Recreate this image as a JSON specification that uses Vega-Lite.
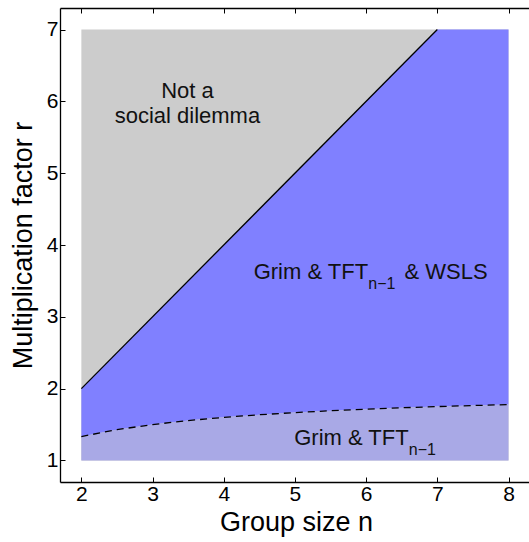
{
  "$schema": "https://vega.github.io/schema/vega-lite/v6.json",
  "width": 472,
  "height": 474,
  "autosize": {"type": "none"},
  "padding": {"left": 60, "top": 8, "right": 0, "bottom": 60},
  "background": "white",
  "config": {
    "view": {"stroke": null},
    "font": "Liberation Sans",
    "axis": {
      "grid": false,
      "domainColor": "black",
      "domainWidth": 1.3,
      "tickColor": "black",
      "tickWidth": 1,
      "tickSize": -5,
      "labelColor": "black",
      "titleColor": "black",
      "labelFont": "Liberation Sans",
      "titleFont": "Liberation Sans",
      "labelFontSize": 21,
      "titleFontSize": 27,
      "titleFontWeight": "normal"
    }
  },
  "datasets": {
    "curve": [
      {"n": 2, "low": 1.3333, "up": 2},
      {"n": 2.5, "low": 1.4286, "up": 2.5},
      {"n": 3, "low": 1.5, "up": 3},
      {"n": 3.5, "low": 1.5556, "up": 3.5},
      {"n": 4, "low": 1.6, "up": 4},
      {"n": 4.5, "low": 1.6364, "up": 4.5},
      {"n": 5, "low": 1.6667, "up": 5},
      {"n": 5.5, "low": 1.6923, "up": 5.5},
      {"n": 6, "low": 1.7143, "up": 6},
      {"n": 6.5, "low": 1.7333, "up": 6.5},
      {"n": 7, "low": 1.75, "up": 7},
      {"n": 7.5, "low": 1.7647, "up": 7},
      {"n": 8, "low": 1.7778, "up": 7}
    ],
    "diag": [
      {"n": 2, "r": 2},
      {"n": 7, "r": 7}
    ],
    "box": [
      {"n": 2, "bottom": 1, "top": 7},
      {"n": 8, "bottom": 1, "top": 7}
    ],
    "labelsCenter": [
      {"n": 3.49, "r": 6.15, "text": "Not a", "size": 22},
      {"n": 3.49, "r": 5.8, "text": "social dilemma", "size": 22}
    ],
    "labelsLeft": [
      {"n": 4.42, "r": 3.62, "text": "Grim & TFT", "size": 22},
      {"n": 6.03, "r": 3.46, "text": "n−1", "size": 16},
      {"n": 6.54, "r": 3.62, "text": "& WSLS", "size": 22},
      {"n": 4.99, "r": 1.31, "text": "Grim & TFT", "size": 22},
      {"n": 6.6, "r": 1.15, "text": "n−1", "size": 16}
    ]
  },
  "resolve": {"axis": {"x": "independent", "y": "independent"}},
  "layer": [
    {
      "data": {"name": "box"},
      "mark": {"type": "area", "color": "#cccccc", "opacity": 1},
      "encoding": {
        "x": {"field": "n", "type": "quantitative", "scale": {"domain": [1.7, 8.33], "nice": false, "zero": false},
          "axis": {"orient": "bottom", "values": [2, 3, 4, 5, 6, 7, 8], "title": "Group size n", "labelPadding": 6, "titlePadding": 5, "format": "d"}},
        "y": {"field": "top", "type": "quantitative", "scale": {"domain": [0.7, 7.3], "nice": false, "zero": false},
          "axis": {"orient": "left", "values": [1, 2, 3, 4, 5, 6, 7], "title": "Multiplication factor r", "labelPadding": 7, "titlePadding": 9, "format": "d"}},
        "y2": {"field": "bottom"}
      }
    },
    {
      "data": {"name": "curve"},
      "mark": {"type": "area", "color": "#8080ff", "opacity": 1},
      "encoding": {
        "x": {"field": "n", "type": "quantitative",
          "axis": {"orient": "top", "values": [2, 3, 4, 5, 6, 7, 8], "labels": false, "title": null}},
        "y": {"field": "up", "type": "quantitative", "axis": null},
        "y2": {"field": "low"}
      }
    },
    {
      "data": {"name": "curve"},
      "mark": {"type": "area", "color": "#a9a9e6", "opacity": 1},
      "encoding": {
        "x": {"field": "n", "type": "quantitative", "axis": null},
        "y": {"field": "low", "type": "quantitative", "axis": null},
        "y2": {"datum": 1}
      }
    },
    {
      "data": {"name": "curve"},
      "mark": {"type": "line", "color": "black", "strokeWidth": 1.3, "strokeDash": [7, 5]},
      "encoding": {
        "x": {"field": "n", "type": "quantitative", "axis": null},
        "y": {"field": "low", "type": "quantitative", "axis": null}
      }
    },
    {
      "data": {"name": "diag"},
      "mark": {"type": "line", "color": "black", "strokeWidth": 1.3},
      "encoding": {
        "x": {"field": "n", "type": "quantitative", "axis": null},
        "y": {"field": "r", "type": "quantitative", "axis": null}
      }
    },
    {
      "data": {"name": "labelsCenter"},
      "mark": {"type": "text", "baseline": "middle", "align": "center", "color": "#111111", "font": "Liberation Sans"},
      "encoding": {
        "x": {"field": "n", "type": "quantitative", "axis": null},
        "y": {"field": "r", "type": "quantitative", "axis": null},
        "text": {"field": "text"},
        "size": {"field": "size", "type": "quantitative", "scale": null, "legend": null}
      }
    },
    {
      "data": {"name": "labelsLeft"},
      "mark": {"type": "text", "baseline": "middle", "align": "left", "color": "#111111", "font": "Liberation Sans"},
      "encoding": {
        "x": {"field": "n", "type": "quantitative", "axis": null},
        "y": {"field": "r", "type": "quantitative", "axis": null},
        "text": {"field": "text"},
        "size": {"field": "size", "type": "quantitative", "scale": null, "legend": null}
      }
    }
  ]
}
